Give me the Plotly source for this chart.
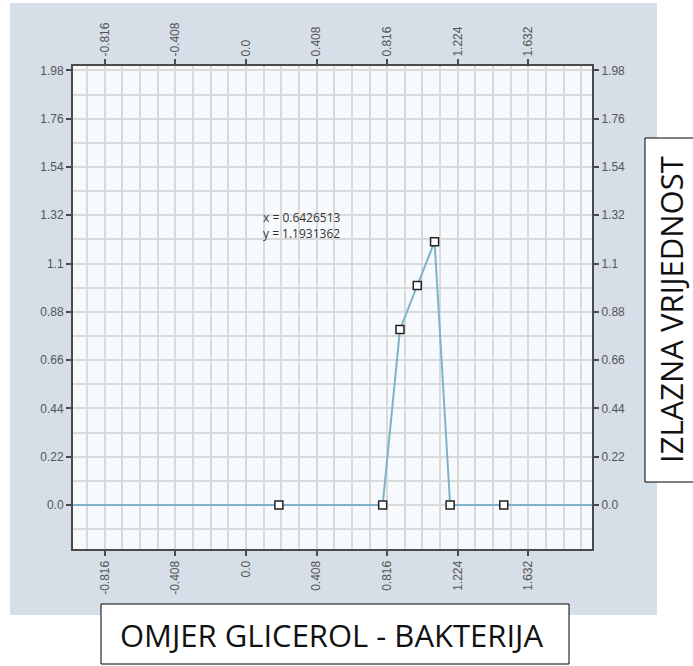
import plotly.graph_objects as go

# ---- data ----
x_line = [-1.0, 0.19, 0.79, 0.89, 0.99, 1.09, 1.18, 1.49, 2.0]
y_line = [0.0, 0.0, 0.0, 0.80, 1.00, 1.20, 0.0, 0.0, 0.0]
x_pts = [0.19, 0.79, 0.89, 0.99, 1.09, 1.18, 1.49]
y_pts = [0.0, 0.0, 0.80, 1.00, 1.20, 0.0, 0.0]

x_tickvals = [-0.816, -0.408, 0.0, 0.408, 0.816, 1.224, 1.632]
x_ticktext = ["-0.816", "-0.408", "0.0", "0.408", "0.816", "1.224", "1.632"]
y_tickvals = [0.0, 0.22, 0.44, 0.66, 0.88, 1.1, 1.32, 1.54, 1.76, 1.98]
y_ticktext = ["0.0", "0.22", "0.44", "0.66", "0.88", "1.1", "1.32", "1.54", "1.76", "1.98"]

x_title = "OMJER GLICEROL - BAKTERIJA"
y_title = "IZLAZNA VRIJEDNOST"
readout = "x = 0.6426513<br>y = 1.1931362"

# ---- layout geometry (pixels) ----
W, H = 693, 666
L, R, T, B = 73, 592, 66, 549
PW, PH = R - L, B - T


def px(xp):
    return (xp - L) / PW


def py(yp):
    return (B - yp) / PH


LINE_COL = "#7fb2c8"
AX_COL = "#4a4a4a"
GRID_COL = "#dadada"
TICK_FONT = dict(family="Liberation Sans, Arial", size=12, color="#555555")

fig = go.Figure()
fig.add_trace(go.Scatter(x=x_line, y=y_line, mode="lines",
                         line=dict(color=LINE_COL, width=2), hoverinfo="skip",
                         showlegend=False))
fig.add_trace(go.Scatter(x=x_pts, y=y_pts, mode="markers", xaxis="x2", yaxis="y2",
                         marker=dict(symbol="square", size=8, color="white",
                                     line=dict(color="#222222", width=1.5)),
                         showlegend=False))

common_x = dict(range=[-1.0, 2.0], tickmode="array", tickvals=x_tickvals, ticktext=x_ticktext,
                tickangle=-90, ticks="outside", ticklen=5, tickwidth=2, tickcolor=AX_COL,
                showline=True, linecolor=AX_COL, linewidth=2, zeroline=False,
                tickfont=TICK_FONT)
common_y = dict(range=[-0.2, 2.0], tickmode="array", tickvals=y_tickvals, ticktext=y_ticktext,
                ticks="outside", ticklen=5, tickwidth=2, tickcolor=AX_COL,
                showline=True, linecolor=AX_COL, linewidth=2, zeroline=False,
                tickfont=TICK_FONT)

fig.update_layout(
    width=W, height=H,
    margin=dict(l=L, r=W - R, t=T, b=H - B, pad=0),
    paper_bgcolor="white",
    plot_bgcolor="rgba(0,0,0,0)",
    xaxis=dict(**common_x, side="bottom", showgrid=True, gridcolor=GRID_COL, gridwidth=2,
               minor=dict(tickmode="linear", tick0=0, dtick=0.102, showgrid=True,
                          gridcolor=GRID_COL, gridwidth=2, ticks="")),
    xaxis2=dict(**common_x, side="top", overlaying="x", matches="x", showgrid=False),
    yaxis=dict(**common_y, side="left", showgrid=True, gridcolor=GRID_COL, gridwidth=2,
               minor=dict(tickmode="linear", tick0=0, dtick=0.11, showgrid=True,
                          gridcolor=GRID_COL, gridwidth=2, ticks="")),
    yaxis2=dict(**common_y, side="right", overlaying="y", matches="y", showgrid=False),
    shapes=[
        dict(type="rect", xref="paper", yref="paper", x0=px(10), x1=px(657), y0=py(615), y1=py(3),
             fillcolor="#d6dee7", line=dict(width=0), layer="below"),
        dict(type="rect", xref="paper", yref="paper", x0=0, x1=1, y0=0, y1=1,
             fillcolor="#f7fafd", line=dict(width=0), layer="below"),
        dict(type="rect", xref="paper", yref="paper", x0=px(101), x1=px(569), y0=py(664), y1=py(604),
             fillcolor="white", line=dict(color="black", width=1)),
        dict(type="rect", xref="paper", yref="paper", x0=px(645), x1=px(705), y0=py(482), y1=py(138),
             fillcolor="white", line=dict(color="black", width=1)),
    ],
    annotations=[
        dict(text=x_title, xref="paper", yref="paper", x=px(331), y=py(635), showarrow=False,
             xanchor="center", yanchor="middle",
             font=dict(family="Open Sans", size=31, color="#111111")),
        dict(text=y_title, xref="paper", yref="paper", x=px(671), y=py(310), showarrow=False,
             xanchor="center", yanchor="middle", textangle=-90,
             font=dict(family="Open Sans", size=31, color="#111111")),
        dict(text=readout, xref="paper", yref="paper", x=px(261), y=py(207), showarrow=False,
             xanchor="left", yanchor="top", align="left",
             font=dict(family="Open Sans", size=12, color="#333333")),
    ],
)

fig.write_html("out.html", config={"displayModeBar": False},
               post_script="document.body.style.margin='0';")
